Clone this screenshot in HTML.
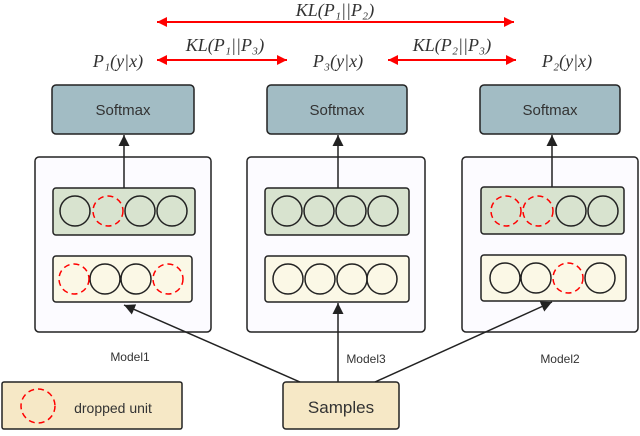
<!DOCTYPE html><html><head><style>body{margin:0;background:#fff}</style></head><body>
<svg width="640" height="431" viewBox="0 0 640 431" xmlns="http://www.w3.org/2000/svg" font-family="Liberation Sans, sans-serif">
<defs>
<marker id="r" viewBox="0 0 10 10" refX="10" refY="5" markerWidth="14" markerHeight="10" orient="auto-start-reverse" markerUnits="userSpaceOnUse"><path d="M0,0L10,5L0,10z" fill="#f00"/></marker>
<marker id="k" viewBox="0 0 10 10" refX="10" refY="5" markerWidth="11" markerHeight="11" orient="auto" markerUnits="userSpaceOnUse"><path d="M0,0L10,5L0,10z" fill="#222"/></marker>
</defs>
<g stroke="#222" stroke-width="1.5">
<rect x="35" y="157" width="176" height="175" rx="4" fill="#fcfbff"/>
<rect x="247" y="157" width="178" height="175" rx="4" fill="#fcfbff"/>
<rect x="462" y="157" width="176" height="175" rx="4" fill="#fcfbff"/>
<rect x="52" y="85" width="142" height="49" rx="4" fill="#a2bcc4"/>
<rect x="267" y="85" width="140" height="49" rx="4" fill="#a2bcc4"/>
<rect x="480" y="85" width="140" height="49" rx="4" fill="#a2bcc4"/>
<rect x="53" y="188" width="142" height="47" rx="3" fill="#d8e3cf"/>
<rect x="265" y="188" width="144" height="47" rx="3" fill="#d8e3cf"/>
<rect x="481" y="187" width="143" height="47" rx="3" fill="#d8e3cf"/>
<rect x="53" y="256" width="139" height="46" rx="3" fill="#fbf8e6"/>
<rect x="265" y="256" width="144" height="46" rx="3" fill="#fbf8e6"/>
<rect x="481" y="255" width="145" height="46" rx="3" fill="#fbf8e6"/>
<rect x="283" y="382" width="116" height="47" rx="3" fill="#f6e8c6"/>
<rect x="2" y="382" width="180" height="47" rx="2" fill="#f6e8c6"/>
</g>
<g stroke="#222" stroke-width="1.5" fill="none">
<circle cx="75" cy="211" r="15"/><circle cx="140" cy="211" r="15"/><circle cx="172" cy="211" r="15"/>
<circle cx="105" cy="279" r="15"/><circle cx="136" cy="279" r="15"/>
<circle cx="287" cy="211" r="15"/><circle cx="319" cy="211" r="15"/><circle cx="351" cy="211" r="15"/><circle cx="383" cy="211" r="15"/>
<circle cx="288" cy="279" r="15"/><circle cx="320" cy="279" r="15"/><circle cx="352" cy="279" r="15"/><circle cx="382" cy="279" r="15"/>
<circle cx="571" cy="211" r="15"/><circle cx="603" cy="211" r="15"/>
<circle cx="505" cy="278" r="15"/><circle cx="536" cy="278" r="15"/><circle cx="600" cy="278" r="15"/>
</g>
<g stroke="#f00" stroke-width="1.5" fill="none" stroke-dasharray="6,4">
<circle cx="108" cy="211" r="15"/>
<circle cx="74" cy="279" r="15"/><circle cx="168" cy="279" r="15"/>
<circle cx="506" cy="211" r="15"/><circle cx="538" cy="211" r="15"/>
<circle cx="568" cy="278" r="15"/>
<circle cx="38" cy="406" r="17"/>
</g>
<g stroke="#222" stroke-width="1.5" marker-end="url(#k)">
<line x1="124" y1="188" x2="124" y2="135"/>
<line x1="338" y1="188" x2="338" y2="135"/>
<line x1="552" y1="187" x2="552" y2="135"/>
<line x1="300" y1="382" x2="124" y2="305"/>
<line x1="338" y1="382" x2="338" y2="303"/>
<line x1="375" y1="382" x2="552" y2="302"/>
</g>
<g stroke="#f00" stroke-width="2" marker-start="url(#r)" marker-end="url(#r)">
<line x1="157" y1="22" x2="514" y2="22"/>
<line x1="157" y1="60" x2="287" y2="60"/>
<line x1="388" y1="60" x2="516" y2="60"/>
</g>
<g fill="#333" font-size="15" text-anchor="middle">
<text x="123" y="115">Softmax</text><text x="337" y="115">Softmax</text><text x="550" y="115">Softmax</text>
<text x="341" y="413" font-size="17">Samples</text>
<text x="113" y="413" font-size="14">dropped unit</text>
</g>
<g fill="#333" font-size="12" text-anchor="middle">
<text x="130" y="361">Model1</text><text x="366" y="363">Model3</text><text x="560" y="363">Model2</text>
</g>
<g fill="#333" font-family="Liberation Serif, serif" font-style="italic" font-size="18" text-anchor="middle">
<text x="335" y="16">KL(P₁||P₂)</text>
<text x="225" y="51">KL(P₁||P₃)</text>
<text x="452" y="51">KL(P₂||P₃)</text>
<text x="118" y="67">P₁(y|x)</text>
<text x="338" y="67">P₃(y|x)</text>
<text x="567" y="67">P₂(y|x)</text>
</g>
</svg></body></html>
